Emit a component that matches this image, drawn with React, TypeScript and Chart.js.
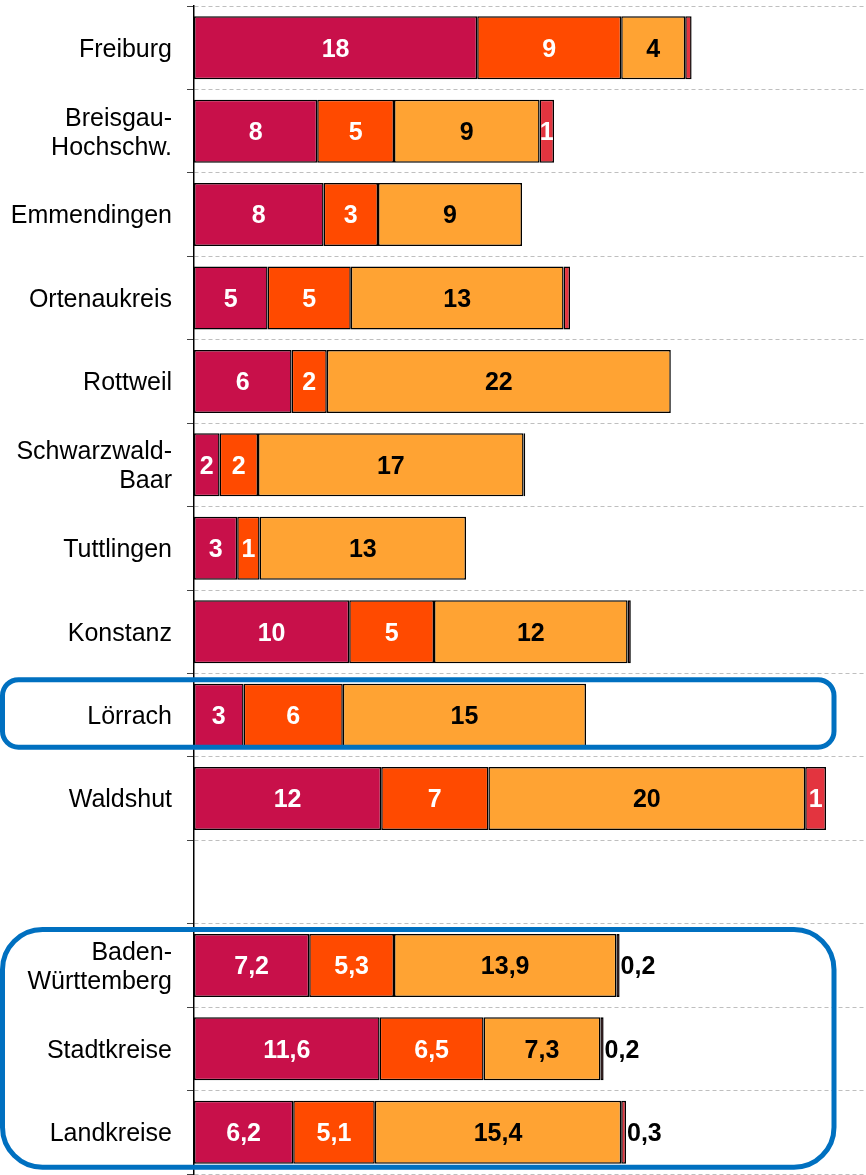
import React, { useEffect, useRef } from "react";
import { Chart, registerables } from "chart.js";

Chart.register(...registerables);

const categories: (string | string[])[] = [
  "Freiburg",
  ["Breisgau-", "Hochschw."],
  "Emmendingen",
  "Ortenaukreis",
  "Rottweil",
  ["Schwarzwald-", "Baar"],
  "Tuttlingen",
  "Konstanz",
  "Lörrach",
  "Waldshut",
  "",
  ["Baden-", "Württemberg"],
  "Stadtkreise",
  "Landkreise",
];

const series1 = [17.7, 7.7, 8.1, 4.6, 6.1, 1.6, 2.7, 9.7, 3.1, 11.7, null, 7.2, 11.6, 6.2];
const series2 = [9.0, 4.8, 3.4, 5.2, 2.2, 2.4, 1.4, 5.3, 6.2, 6.7, null, 5.3, 6.5, 5.1];
const series3 = [4.0, 9.1, 9.0, 13.3, 21.5, 16.6, 12.9, 12.1, 15.2, 19.8, null, 13.9, 7.3, 15.4];
const series4 = [0.4, 0.9, 0, 0.4, 0, 0.1, 0, 0.2, 0, 1.3, null, 0.2, 0.2, 0.3];

const seriesNames = ["Anteil 1", "Anteil 2", "Anteil 3", "Anteil 4"];
const seriesColors = ["#C8104A", "#FF4A00", "#FFA333", "#E3343F"];

const summaryStart = 11;
const highlightSingle = 8;
const xMax = 42;
const boxRightValue = 40;

const labelFont = 'bold 25px "Liberation Sans", Arial, sans-serif';

const barLabels = {
  id: "barLabels",
  afterDatasetsDraw(chart: any) {
    const ctx = chart.ctx;
    chart.data.datasets.forEach((ds: any, di: number) => {
      const meta = chart.getDatasetMeta(di);
      meta.data.forEach((bar: any, i: number) => {
        const v = ds.data[i];
        if (v == null) return;
        const summary = i >= summaryStart;
        let text: string;
        if (summary) {
          text = v.toFixed(1).replace(".", ",");
        } else {
          const r = Math.round(v);
          if (r < 1) return;
          text = String(r);
        }
        const { x, y, base } = bar.getProps(["x", "y", "base"], true);
        const outside = summary && di === 3;
        ctx.save();
        ctx.font = labelFont;
        ctx.textBaseline = "middle";
        if (outside) {
          ctx.textAlign = "left";
          ctx.fillStyle = "#000";
          ctx.fillText(text, x + 1, y + 2);
        } else {
          ctx.textAlign = "center";
          ctx.fillStyle = di === 2 ? "#000" : "#fff";
          ctx.fillText(text, (x + base) / 2, y + 2);
        }
        ctx.restore();
      });
    });
  },
};

function roundRect(ctx: CanvasRenderingContext2D, l: number, t: number, r: number, b: number, rad: number) {
  ctx.beginPath();
  ctx.moveTo(l + rad, t);
  ctx.lineTo(r - rad, t);
  ctx.arcTo(r, t, r, t + rad, rad);
  ctx.lineTo(r, b - rad);
  ctx.arcTo(r, b, r - rad, b, rad);
  ctx.lineTo(l + rad, b);
  ctx.arcTo(l, b, l, b - rad, rad);
  ctx.lineTo(l, t + rad);
  ctx.arcTo(l, t, l + rad, t, rad);
  ctx.closePath();
}

const highlightBoxes = {
  id: "highlightBoxes",
  afterDraw(chart: any) {
    const ctx = chart.ctx;
    const ys = chart.scales.y;
    const xs = chart.scales.x;
    const right = xs.getPixelForValue(boxRightValue);
    ctx.save();
    ctx.strokeStyle = "#0070C0";
    ctx.lineWidth = 5;
    const c1 = ys.getPixelForValue(highlightSingle);
    roundRect(ctx, 2.5, c1 - 35.5, right, c1 + 32, 16);
    ctx.stroke();
    const t2 = ys.getPixelForValue(summaryStart) - 36;
    const b2 = ys.getPixelForValue(categories.length - 1) + 35;
    roundRect(ctx, 2.5, t2, right, b2, 40);
    ctx.stroke();
    ctx.restore();
  },
};

export default function App() {
  const ref = useRef<HTMLCanvasElement>(null);
  useEffect(() => {
    if (!ref.current) return;
    const data = [series1, series2, series3, series4];
    const chart = new Chart(ref.current, {
      type: "bar",
      data: {
        labels: categories as any,
        datasets: data.map((d, i) => ({
          label: seriesNames[i],
          data: d as any,
          backgroundColor: seriesColors[i],
          borderColor: "#000",
          borderWidth: 1.5,
          borderSkipped: false,
          categoryPercentage: 1,
          barPercentage: 0.755,
        })),
      },
      options: {
        indexAxis: "y",
        responsive: false,
        animation: false,
        layout: { padding: { top: 6, bottom: 1, left: 0, right: 0 } },
        plugins: { legend: { display: false }, tooltip: { enabled: false } },
        scales: {
          x: {
            stacked: true,
            display: false,
            min: 0,
            max: xMax,
          },
          y: {
            stacked: true,
            afterFit: (scale: any) => {
              scale.width = 194;
              scale.paddingTop = 0;
              scale.paddingBottom = 0;
            },
            grid: {
              offset: true,
              color: "#BFBFBF",
              lineWidth: 1,
              drawTicks: true,
              tickLength: 7,
              tickColor: "#444",
              tickBorderDash: [],
            },
            border: { display: true, color: "#000", width: 1.5, dash: [4, 3] },
            ticks: {
              color: "#000",
              padding: 15,
              labelOffset: 2,
              font: { family: '"Liberation Sans", Arial, sans-serif', size: 25, lineHeight: 1.16 },
              autoSkip: false,
            },
          },
        },
      },
      plugins: [barLabels, highlightBoxes],
    });
    return () => chart.destroy();
  }, []);
  return (
    <div style={{ position: "fixed", top: 0, left: 0, width: 866, height: 1175, background: "#fff" }}>
      <canvas ref={ref} width={866} height={1175} style={{ display: "block" }} />
    </div>
  );
}
